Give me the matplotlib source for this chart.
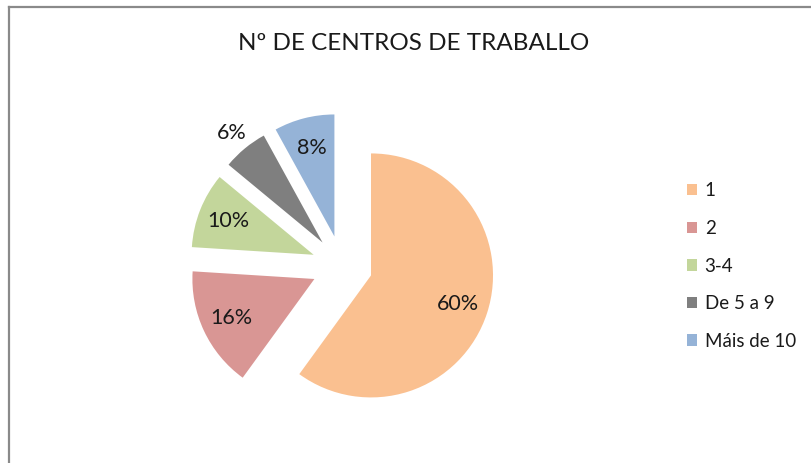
import matplotlib.pyplot as plt
from matplotlib.lines import Line2D

plt.rcParams['font.family'] = ['Lato', 'DejaVu Sans']

# data
categorias = ['1', '2', '3-4', 'De 5 a 9', 'Máis de 10']
porcentaxes = [60, 16, 10, 6, 8]
cores = ['#FAC090', '#D99694', '#C3D69B', '#7F7F7F', '#95B3D7']
titulo = 'Nº DE CENTROS DE TRABALLO'

W, H = 812, 463
fig = plt.figure(figsize=(W / 100, H / 100), dpi=100)

# pie axes: centre ~ (342, 266) px, radius ~122 px
L = 1.5
side = 122 * 2 * L
cx, cy = 342, 266
ax = fig.add_axes([(cx - side / 2) / W, (H - cy - side / 2) / H, side / W, side / H])

wedges, texts, autotexts = ax.pie(
    porcentaxes, colors=cores, startangle=90, counterclock=False,
    explode=[0.25] * len(porcentaxes), autopct='%d%%', pctdistance=0.75,
    textprops={'fontsize': 15.5, 'color': '#1a1a1a'},
)
# small slice label sits outside
x6, y6 = autotexts[3].get_position()
autotexts[3].set_position((x6 * 1.42, y6 * 1.42))
ax.set_xlim(-L, L)
ax.set_ylim(-L, L)
ax.set_aspect('equal')

fig.text(414 / W, 1 - 44 / H, titulo, ha='center', va='center', fontsize=17.5, color='#1a1a1a')

fig.legend(wedges, categorias, loc='center left', bbox_to_anchor=(670 / W, 1 - 266 / H),
           frameon=False, fontsize=13.5, handlelength=0.55, handleheight=0.55,
           handletextpad=0.4, labelspacing=1.1, labelcolor='#1a1a1a')

# chart border (top and left visible)
fig.add_artist(Line2D([9 / W, 1], [1 - 7 / H, 1 - 7 / H], color='#8a8a8a', lw=1.6))
fig.add_artist(Line2D([9 / W, 9 / W], [0, 1 - 7 / H], color='#8a8a8a', lw=1.6))

fig.savefig('out.png', dpi=100)
